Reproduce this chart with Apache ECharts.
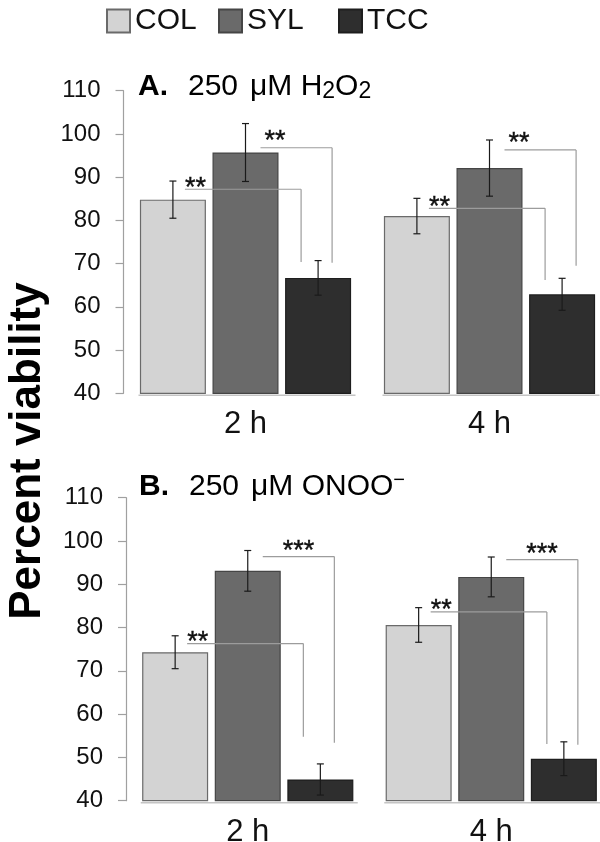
<!DOCTYPE html>
<html><head><meta charset="utf-8">
<script src="https://cdn.jsdelivr.net/npm/echarts@6/dist/echarts.min.js"></script>
<style>html,body{margin:0;padding:0;background:#fff}#c{width:600px;height:842px}</style>
</head><body><div id="c"></div>
<script>
// ---------- data ----------
const categories = ['2 h', '4 h'];
const groups = ['COL', 'SYL', 'TCC'];
const yMin = 40, yMax = 110, yStep = 10;

// Panel A: 250 µM H2O2
const aCOL = [84.8, 81.0], aSYL = [95.7, 92.1], aTCC = [66.7, 62.9];
const aCOLerr = [4.3, 4.1], aSYLerr = [6.7, 6.5], aTCCerr = [4.0, 3.7];
// Panel B: 250 µM ONOO-
const bCOL = [74.3, 80.6], bSYL = [93.1, 91.7], bTCC = [44.9, 49.7];
const bCOLerr = [3.8, 4.0], bSYLerr = [4.7, 4.6], bTCCerr = [3.6, 3.9];

// significance brackets: [category, fromGroup, toGroup, line value, drop-to value, label]
const aBrackets = [[0,0,2,87.2,70.4,'**'],[0,1,2,96.8,70.2,'**'],[1,0,2,82.8,66.2,'**'],[1,1,2,96.3,69.5,'**']];
const bBrackets = [[0,0,2,76.3,54.8,'**'],[0,1,2,96.4,53.4,'***'],[1,0,2,83.6,53.1,'**'],[1,1,2,95.7,52.9,'***']];

// ---------- style ----------
const FONT = "'Liberation Sans', Arial, Helvetica, sans-serif";
const fills = ['#d3d3d3', '#6a6a6a', '#2e2e2e'];
const borders = ['#6a6a6a', '#454545', '#1e1e1e'];
const BAR_W = 66, BAR_GAP = 0.1, STEP = BAR_W * (1 + BAR_GAP), CAP = 3.5;
const START_OFF = [12, 15];      // bracket start offset from the "from" bar centre
const END_OFF = [-17, 14];        // bracket end offset from the TCC bar centre (by from-group)
const grids = [
  {left: 123.5, top: 90.7, width: 488, height: 302.6},
  {left: 126, top: 497.7, width: 487, height: 303}
];
const legendLeft = [101, 213, 333];

const panels = [
  {vals: [aCOL, aSYL, aTCC], errs: [aCOLerr, aSYLerr, aTCCerr], br: aBrackets},
  {vals: [bCOL, bSYL, bTCC], errs: [bCOLerr, bSYLerr, bTCCerr], br: bBrackets}
];

const chart = echarts.init(document.getElementById('c'));
const series = [];
const xAxes = [], yAxes = [];

panels.forEach((p, pi) => {
  xAxes.push({
    type: 'category', gridIndex: pi, data: categories,
    axisLine: {show: false}, axisTick: {show: false},
    axisLabel: {fontSize: 31, color: '#111', fontFamily: FONT, margin: 16}
  });
  yAxes.push({
    type: 'value', gridIndex: pi, min: yMin, max: yMax, interval: yStep,
    splitLine: {show: false},
    axisLine: {show: true, lineStyle: {color: '#a0a0a0', width: 1.2}},
    axisTick: {show: true, length: 8, lineStyle: {color: '#a0a0a0', width: 1.2}},
    axisLabel: {fontSize: 24, color: '#111', fontFamily: FONT, margin: 23}
  });
  groups.forEach((g, gi) => {
    series.push({
      type: 'bar', name: g, xAxisIndex: pi, yAxisIndex: pi,
      data: p.vals[gi], barWidth: BAR_W, barGap: (BAR_GAP * 100) + '%',
      itemStyle: {color: fills[gi], borderColor: borders[gi], borderWidth: 1.2},
      emphasis: {disabled: true}, animation: false, z: 2
    });
  });
  // baseline under each group
  series.push({
    type: 'custom', xAxisIndex: pi, yAxisIndex: pi, animation: false, z: 1,
    data: categories.map((c, ci) => [ci, yMin]),
    renderItem: function (params, api) {
      const pt = api.coord([api.value(0), api.value(1)]);
      return {type: 'line', shape: {x1: pt[0] - 107, y1: pt[1] + 2, x2: pt[0] + 110, y2: pt[1] + 2},
        style: {stroke: '#c4c4c4', lineWidth: 1.5}};
    }
  });
  // error bars
  const errData = [];
  groups.forEach((g, gi) => categories.forEach((c, ci) => errData.push([ci, p.vals[gi][ci], p.errs[gi][ci], gi])));
  series.push({
    type: 'custom', xAxisIndex: pi, yAxisIndex: pi, animation: false, z: 5,
    data: errData,
    renderItem: function (params, api) {
      const cat = api.value(0), v = api.value(1), e = api.value(2), gi = api.value(3);
      const t = api.coord([cat, v + e]), b = api.coord([cat, v - e]);
      const x = t[0] + (gi - 1) * STEP;
      const st = {stroke: '#1a1a1a', lineWidth: 1.2};
      return {type: 'group', children: [
        {type: 'line', shape: {x1: x, y1: t[1], x2: x, y2: b[1]}, style: st},
        {type: 'line', shape: {x1: x - CAP, y1: t[1], x2: x + CAP, y2: t[1]}, style: st},
        {type: 'line', shape: {x1: x - CAP, y1: b[1], x2: x + CAP, y2: b[1]}, style: st}
      ]};
    }
  });
  // significance brackets
  const brList = p.br;
  series.push({
    type: 'custom', xAxisIndex: pi, yAxisIndex: pi, animation: false, z: 6,
    data: brList.map(b => [b[0], b[3], b[4]]),
    renderItem: function (params, api) {
      const b = brList[params.dataIndex];
      const cat = b[0], from = b[1], to = b[2], label = b[5];
      const pTop = api.coord([cat, b[3]]), pDrop = api.coord([cat, b[4]]);
      const x1 = pTop[0] + (from - 1) * STEP + START_OFF[from];
      const x2 = pTop[0] + (to - 1) * STEP + END_OFF[from];
      const y = pTop[1];
      const st = {stroke: '#9c9c9c', lineWidth: 1.2};
      let tx, ty, align;
      if (label === '***') { tx = (x1 + x2) / 2; ty = y - 5; align = 'center'; }
      else if (from === 0) { tx = x1; ty = y - 1; align = 'left'; }
      else { tx = x1 + 4; ty = y - 6; align = 'left'; }
      return {type: 'group', children: [
        {type: 'line', shape: {x1: x1, y1: y, x2: x2, y2: y}, style: st},
        {type: 'line', shape: {x1: x2, y1: y, x2: x2, y2: pDrop[1]}, style: st},
        {type: 'text', x: tx, y: ty, style: {text: label, fontSize: 27, fontFamily: FONT,
          fill: '#111', align: align, verticalAlign: 'middle', stroke: '#111', lineWidth: 0.4}}
      ]};
    }
  });
});

const titleRich = {
  b: {fontSize: 30, fontWeight: 'bold', fontFamily: FONT, color: '#111', lineHeight: 33, padding: [0, 20, 0, 0]},
  n: {fontSize: 30, fontFamily: FONT, color: '#111', lineHeight: 33},
  m: {fontSize: 30, fontFamily: FONT, color: '#111', lineHeight: 33, padding: [0, 0, 0, 12]},
  s: {fontSize: 23, fontFamily: FONT, color: '#111', lineHeight: 14, verticalAlign: 'bottom'},
  p: {fontSize: 20, fontFamily: FONT, color: '#111', lineHeight: 14, verticalAlign: 'top'}
};

chart.setOption({
  animation: false,
  backgroundColor: '#fff',
  grid: grids.map(g => Object.assign({outerBoundsMode: 'none', containLabel: false}, g)),
  xAxis: xAxes,
  yAxis: yAxes,
  legend: groups.map((g, gi) => ({
    data: [g], left: legendLeft[gi], top: 1, itemWidth: 23, itemHeight: 23, icon: 'rect',
    selectedMode: false, itemGap: 6,
    textStyle: {fontSize: 30, color: '#111', fontFamily: FONT}
  })),
  graphic: [
    {type: 'text', x: 138, y: 87, style: {
      text: '{b|A.}{n|250}{m|μM H}{s|2}{n|O}{s|2}', rich: titleRich, verticalAlign: 'middle', align: 'left'}},
    {type: 'text', x: 139, y: 487, style: {
      text: '{b|B.}{n|250}{m|μM ONOO}{p|−}', rich: titleRich, verticalAlign: 'middle', align: 'left'}},
    {type: 'text', x: 28, y: 451, rotation: Math.PI / 2, style: {
      text: 'Percent viability', fontSize: 44, fontWeight: 'bold', fontFamily: FONT, fill: '#000',
      align: 'center', verticalAlign: 'middle'}}
  ],
  series: series
});
</script>
</body></html>
